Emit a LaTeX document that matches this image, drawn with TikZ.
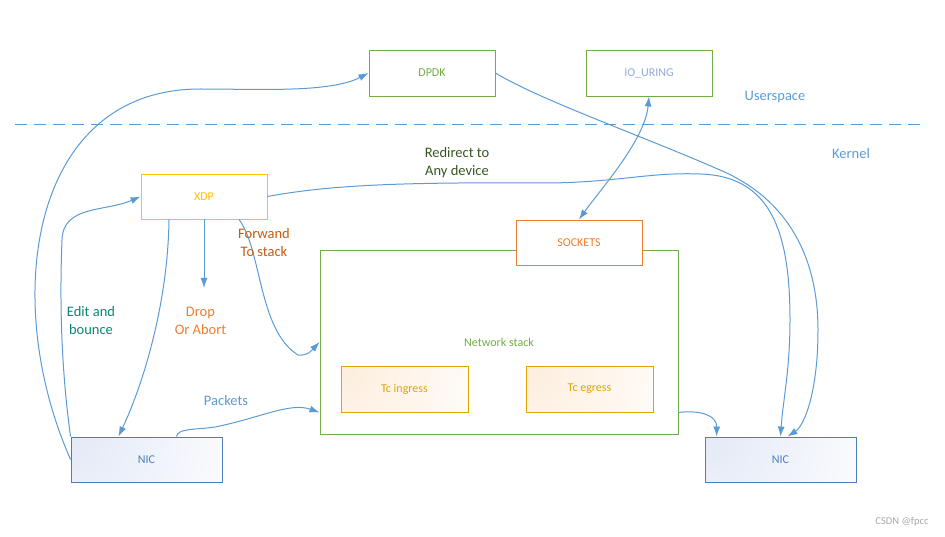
\documentclass[tikz,border=0pt]{standalone}
\usepackage{fontspec}
\setmainfont{Carlito}
\usetikzlibrary{arrows.meta}
\definecolor{flowblue}{HTML}{5B9BD5}
\definecolor{boxgreen}{HTML}{70AD47}
\definecolor{xdpgold}{HTML}{FFC000}
\definecolor{sockorange}{HTML}{ED7D31}
\definecolor{tcgold}{HTML}{E0A500}
\definecolor{nicline}{HTML}{4A7EBB}
\definecolor{nictext}{HTML}{4F7FC0}
\definecolor{uringtext}{HTML}{8FAADC}
\definecolor{redirgreen}{HTML}{375623}
\definecolor{fwdbrown}{HTML}{C55A11}
\definecolor{editteal}{HTML}{0E8378}
\pgfdeclareradialshading{nicshade}{\pgfpoint{0bp}{0bp}}{rgb(0bp)=(0.89,0.914,0.965); rgb(22bp)=(1,1,1); rgb(50bp)=(1,1,1)}
\pgfdeclareradialshading{tcshade}{\pgfpoint{0bp}{0bp}}{rgb(0bp)=(0.992,0.933,0.867); rgb(20bp)=(1,1,1); rgb(50bp)=(1,1,1)}
\tikzset{box/.style={draw, line width=0.9pt, inner sep=0pt,
minimum width=126pt, minimum height=46pt, font=\fontsize{12}{14}\selectfont},
nicbox/.style={box, draw=nicline, text=nictext, minimum width=151pt, minimum height=45pt,
path picture={\fill[shading=nicshade] (path picture bounding box.north west) circle (220pt);}},
tcbox/.style={box, draw=tcgold, text=tcgold, minimum width=127pt,
path picture={\fill[shading=tcshade] (path picture bounding box.north west) circle (220pt);}},
flow/.style={draw=flowblue, line width=1pt, -{Latex[length=10pt,width=7pt]}},
lbl/.style={align=center, font=\fontsize{14.5}{18}\selectfont}}
\begin{document}
\begin{tikzpicture}[x=1pt, y=-1pt]
\useasboundingbox (0,0) rectangle (945,537);
% userspace / kernel border
\draw[flowblue, line width=1pt, dash pattern=on 12pt off 7pt] (15,125) -- (923,125);
\node[lbl, text=flowblue] (user) at (775,97) {Userspace};
\node[lbl, text=flowblue] (kern) at (851,154) {Kernel};
% boxes
\node[box, draw=boxgreen, text=boxgreen] (dpdk) at (432,73) {DPDK};
\node[box, draw=boxgreen, text=uringtext] (uring) at (649,73) {IO\_URING};
\node[box, draw=xdpgold, text=xdpgold, minimum height=45pt] (xdp) at (204,196.5) {XDP};
\node[box, draw=boxgreen, text=boxgreen, minimum width=358pt, minimum height=184pt] (stack) at (499,342) {Network stack};
\node[box, draw=sockorange, text=sockorange, fill=white, minimum height=45pt] (sock) at (579,242.5) {SOCKETS};
\node[tcbox] (tcin) at (404.5,389) {Tc ingress};
\node[tcbox] (tceg) at (589.5,389) {Tc egress};
\node[nicbox] (nicl) at (146.5,459.5) {NIC};
\node[nicbox] (nicr) at (780.5,459.5) {NIC};
\coordinate (dropend) at (204,288);
% connectors
\draw[flow] (nicl.west) .. controls (0,300) and (30,89) .. (200,89)
  .. controls (260,89) and (330,93) .. (dpdk.west);
\draw[flow] (nicl.north west) .. controls (60,360) and (60,290) .. (62,240)
  .. controls (63,205) and (105,212) .. (xdp.west);
\draw[flow] ([xshift=-35pt]xdp.south) .. controls (168,300) and (145,380) .. ([xshift=-28pt]nicl.north);
\draw[flow] (xdp.south) -- (dropend);
\draw[flow] ([xshift=35pt]xdp.south) .. controls (262,250) and (258,330) .. (298,355)
  .. controls (308,356) and (312,350) .. (stack.west);
\draw[flow] (xdp.east) .. controls (330,185) and (400,182) .. (550,183)
  .. controls (620,182) and (650,172) .. (700,174)
  .. controls (770,176) and (790,230) .. (790,320)
  .. controls (790,370) and (783,400) .. (nicr.north);
\draw[flow] (dpdk.east) .. controls (540,100) and (640,135) .. (720,170)
  .. controls (790,200) and (818,260) .. (818,330)
  .. controls (818,390) and (805,425) .. ([xshift=7pt]nicr.north);
\draw[flow, {Latex[length=10pt,width=7pt]}-{Latex[length=10pt,width=7pt]}] (uring.south) .. controls (645,140) and (600,190) .. (sock.north);
\draw[flow] ([xshift=30pt]nicl.north) .. controls (178,428) and (195,430) .. (215,427)
  .. controls (260,418) and (290,402) .. ([yshift=22pt]stack.south west);
\draw[flow] ([yshift=22pt]stack.south east) .. controls (700,410) and (717,415) .. ([xshift=12pt]nicr.north west);
% labels
\node[lbl, text=redirgreen] (redir) at (457,163) {Redirect to\\Any device};
\node[lbl, text=fwdbrown] (fwd) at (264,243) {Forwand\\To stack};
\node[lbl, text=editteal] (edit) at (91,321) {Edit and\\bounce};
\node[lbl, text=sockorange] (drop) at (200.5,320.5) {Drop\\Or Abort};
\node[lbl, text=flowblue] (pkts) at (226,401) {Packets};
\node[text=gray!70, font=\fontsize{10.5}{12}\selectfont] (mark) at (902,522) {CSDN @fpcc};
\end{tikzpicture}
\end{document}
